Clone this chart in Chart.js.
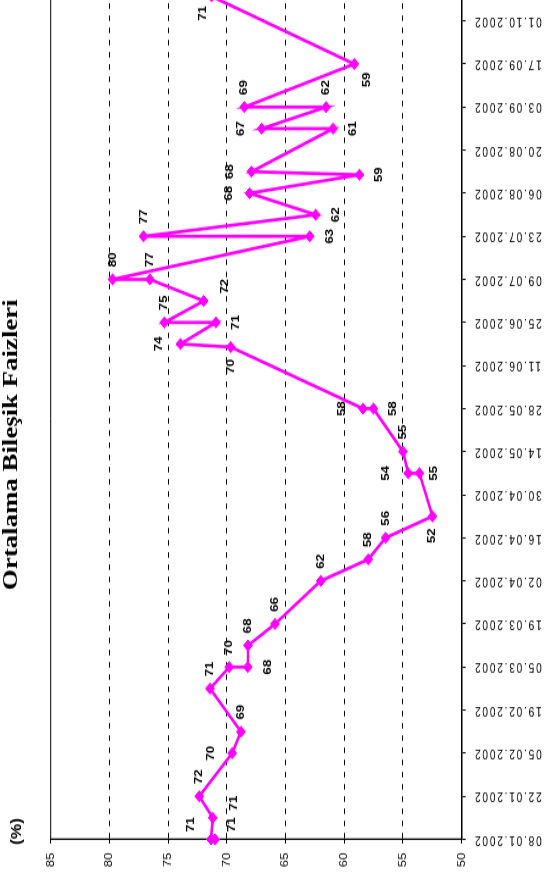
<!DOCTYPE html>
<html lang="tr">
<head>
    <meta charset="UTF-8">
    <title>Ortalama Bileşik Faizleri</title>
    <script src="https://cdn.jsdelivr.net/npm/chart.js"></script>
    <style>
        html, body {
            margin: 0;
            padding: 0;
            background: #fff;
            overflow: hidden;
            width: 546px;
            height: 890px;
        }
        /* chart is drawn landscape, then turned on its side like the scan */
        #wrap {
            position: absolute;
            left: 0;
            top: 0;
            width: 730px;
            height: 546px;
            transform-origin: 0 0;
            transform: translate(0, 890px) rotate(-90deg) scaleX(1.22);
        }
    </style>
</head>
<body>
    <div id="wrap">
        <canvas id="faizChart" width="730" height="546"></canvas>
    </div>

    <script>
        // ihale tarihleri ve ortalama bileşik faiz (%)
        const pointDates = [
            '08.01.2002', '08.01.2002', '15.01.2002', '22.01.2002', '05.02.2002',
            '12.02.2002', '26.02.2002', '05.03.2002', '05.03.2002', '12.03.2002',
            '19.03.2002', '02.04.2002', '09.04.2002', '16.04.2002', '23.04.2002',
            '07.05.2002', '07.05.2002', '14.05.2002', '28.05.2002', '28.05.2002',
            '17.06.2002', '18.06.2002', '25.06.2002', '25.06.2002', '02.07.2002',
            '09.07.2002', '09.07.2002', '23.07.2002', '23.07.2002', '30.07.2002',
            '06.08.2002', '12.08.2002', '13.08.2002', '27.08.2002', '27.08.2002',
            '03.09.2002', '03.09.2002', '17.09.2002', '09.10.2002'
        ];
        const rates = [
            71.0, 71.35, 71.2, 72.35, 69.55,
            68.8, 71.43, 69.8, 68.22, 68.2,
            65.9, 62.0, 57.96, 56.48, 52.49,
            53.6, 54.55, 55.0, 57.52, 58.41,
            69.66, 73.95, 70.93, 75.32, 71.97,
            76.56, 79.73, 62.94, 77.09, 62.44,
            68.06, 58.71, 67.91, 60.95, 67.03,
            61.55, 68.51, 59.15, 71.3
        ];
        // where each value label sits relative to its marker
        const labelSide = [
            'ar', 'br', 'br', 'r', 'a',
            'r', 'r', 'r', 'b', 'r',
            'r', 'r', 'r', 'r', 'l',
            'A', 'B', 'r', 'b', 'a',
            'l', 'a', 'b', 'r', 'br',
            'r', 'r', 'b', 'r', 'b',
            'a', 'b', 'a', 'b', 'a',
            'r', 'r', 'bl', 'al'
        ];
        const tickDates = [
            '08.01.2002', '22.01.2002', '05.02.2002', '19.02.2002', '05.03.2002',
            '19.03.2002', '02.04.2002', '16.04.2002', '30.04.2002', '14.05.2002',
            '28.05.2002', '11.06.2002', '25.06.2002', '09.07.2002', '23.07.2002',
            '06.08.2002', '20.08.2002', '03.09.2002', '17.09.2002', '01.10.2002'
        ];
        const yMin = 50, yMax = 85, yStep = 5;

        function toUTC(s) {
            const [d, m, y] = s.split('.').map(Number);
            return Date.UTC(y, m - 1, d);
        }
        const origin = toUTC(tickDates[0]);
        function dayOf(s) {
            return Math.round((toUTC(s) - origin) / 86400000);
        }

        const points = pointDates.map((d, i) => ({ x: dayOf(d), y: rates[i] }));
        const tickDays = tickDates.map(dayOf);

        const sideOffset = {
            r: [16, 0], l: [-16, 0],
            a: [0, -21], b: [0, 20],
            A: [0, -33], B: [0, 26],
            ar: [12, -24], br: [12, 21], bl: [-13, 13], al: [-14, -9]
        };

        const valueLabels = {
            id: 'valueLabels',
            afterDatasetsDraw(chart) {
                const ctx = chart.ctx;
                const meta = chart.getDatasetMeta(0);
                ctx.save();
                ctx.font = 'bold 11px "Liberation Sans", Arial, sans-serif';
                ctx.fillStyle = '#000';
                ctx.textAlign = 'center';
                ctx.textBaseline = 'middle';
                meta.data.forEach((pt, i) => {
                    const off = sideOffset[labelSide[i]] || sideOffset.r;
                    ctx.fillText(String(Math.round(rates[i])), pt.x + off[0], pt.y + off[1]);
                });
                ctx.restore();
            }
        };

        const frame = {
            id: 'frame',
            beforeDraw(chart) {
                // the scanned date labels are widely spaced
                const sx = chart.scales.x;
                if (sx && !sx._spaced) {
                    const orig = sx.drawLabels;
                    sx.drawLabels = function (area) {
                        this.ctx.save();
                        this.ctx.letterSpacing = '1.7px';
                        orig.call(this, area);
                        this.ctx.restore();
                    };
                    sx._spaced = true;
                }
            },
            beforeDatasetsDraw(chart) {
                const { ctx, chartArea } = chart;
                ctx.save();
                ctx.strokeStyle = '#000';
                ctx.lineWidth = 1;
                ctx.beginPath();
                ctx.moveTo(chartArea.left, chartArea.top);
                ctx.lineTo(chartArea.right + 5, chartArea.top);
                ctx.stroke();
                ctx.restore();
            },
            afterDraw(chart) {
                const ctx = chart.ctx;
                ctx.save();
                ctx.fillStyle = '#000';
                ctx.textAlign = 'center';
                ctx.textBaseline = 'alphabetic';
                ctx.font = 'bold 22px "Liberation Serif", "Times New Roman", serif';
                ctx.fillText('Ortalama Bileşik Faizleri', chart.width / 2, 16.5);
                ctx.font = 'bold 14px "Liberation Sans", Arial, sans-serif';
                ctx.fillText('(%)', 48, 21);
                ctx.restore();
            }
        };

        const ctx = document.getElementById('faizChart').getContext('2d');
        new Chart(ctx, {
            type: 'line',
            data: {
                datasets: [{
                    data: points,
                    borderColor: '#ff00ff',
                    backgroundColor: '#ff00ff',
                    borderWidth: 2.7,
                    tension: 0,
                    pointStyle: 'rectRot',
                    pointRadius: 4.5,
                    pointBorderWidth: 1,
                    pointBackgroundColor: '#ff00ff',
                    pointBorderColor: '#ff00ff',
                    clip: false
                }]
            },
            options: {
                responsive: false,
                animation: false,
                layout: {
                    autoPadding: false,
                    padding: { top: 50.7, left: 0, right: 0, bottom: 0 }
                },
                plugins: {
                    legend: { display: false },
                    tooltip: { enabled: false },
                    title: { display: false }
                },
                scales: {
                    x: {
                        type: 'linear',
                        min: 0,
                        max: 273,
                        afterBuildTicks(scale) {
                            scale.ticks = tickDays.map(v => ({ value: v }));
                        },
                        afterFit(scale) {
                            scale.height = 84.3;
                            scale.paddingLeft = 0;
                            scale.paddingRight = 0;
                        },
                        ticks: {
                            autoSkip: false,
                            minRotation: 90,
                            maxRotation: 90,
                            padding: 7.5,
                            color: '#000',
                            font: { family: '"Liberation Sans", Arial, sans-serif', size: 10.3 },
                            callback: (value) => {
                                const i = tickDays.indexOf(value);
                                return i >= 0 ? tickDates[i] : '';
                            }
                        },
                        grid: {
                            display: true,
                            drawOnChartArea: false,
                            drawTicks: true,
                            tickLength: 4,
                            color: '#000',
                            tickColor: '#000'
                        },
                        border: { display: true, color: '#000', width: 1.5 }
                    },
                    y: {
                        min: yMin,
                        max: yMax,
                        afterFit(scale) {
                            scale.width = 41.5;
                        },
                        ticks: {
                            stepSize: yStep,
                            padding: 7.5,
                            color: '#000',
                            font: { family: '"Liberation Sans", Arial, sans-serif', size: 10.5 }
                        },
                        grid: {
                            drawTicks: true,
                            tickLength: 3.5,
                            lineWidth: 1,
                            tickColor: '#000',
                            color: (c) => (c.tick && (c.tick.value === yMax || c.tick.value === yMin))
                                ? 'rgba(0,0,0,0)' : '#000'
                        },
                        border: { display: true, color: '#000', width: 1.3, dash: [4.5, 5.5] }
                    }
                }
            },
            plugins: [frame, valueLabels]
        });
    </script>
</body>
</html>
